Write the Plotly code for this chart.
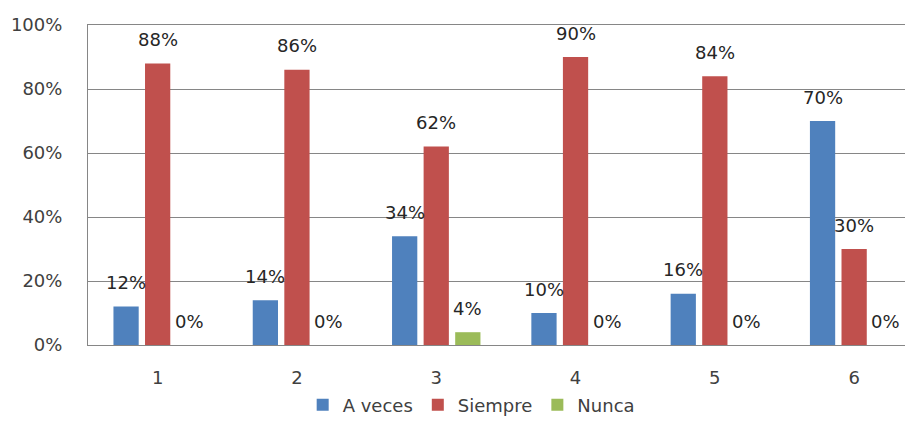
import plotly.graph_objects as go

categories = [1, 2, 3, 4, 5, 6]
tick_labels = ["1", "2", "3", "4", "5", "6"]
a_veces = [0.12, 0.14, 0.34, 0.10, 0.16, 0.70]
siempre = [0.88, 0.86, 0.62, 0.90, 0.84, 0.30]
nunca = [0.00, 0.00, 0.04, 0.00, 0.00, 0.00]
series_names = ["A veces", "Siempre", "Nunca"]
colors = ["#4F81BD", "#C0504D", "#9BBB59"]

FONT = "DejaVu Sans"
BARGAP = 0.32
BARGROUPGAP = 0.2

fig = go.Figure()
series = [a_veces, siempre, nunca]
for name, vals, col in zip(series_names, series, colors):
    fig.add_trace(go.Bar(x=categories, y=vals, name=name, marker_color=col,
                         marker_line_width=0))

slot = (1 - BARGAP) / len(series)
annotations = []
for i, vals in enumerate(series):
    off = (i - (len(series) - 1) / 2) * slot
    for c, v in zip(categories, vals):
        annotations.append(dict(x=c + off, y=v, text=f"{round(v*100)}%",
                                showarrow=False, yanchor="middle", yshift=24,
                                font=dict(family=FONT, size=18, color="#262626")))

fig.update_layout(
    width=913, height=423,
    margin=dict(l=80, r=0, t=17, b=86),
    paper_bgcolor="white", plot_bgcolor="white",
    barmode="group", bargap=BARGAP, bargroupgap=BARGROUPGAP,
    annotations=annotations,
    font=dict(family=FONT, size=18, color="#404040"),
    legend=dict(orientation="h", x=0.46, xanchor="center", y=-0.1875, yanchor="middle",
                font=dict(family=FONT, size=18, color="#404040"),
                itemwidth=30, tracegroupgap=0),
    showlegend=True,
)
fig.update_xaxes(range=[0.5, 6.48], tickvals=categories, ticktext=tick_labels,
                 showline=True, linecolor="#868686", linewidth=1, mirror=True,
                 showgrid=False, zeroline=False, ticks="", ticklabelstandoff=16,
                 automargin=False,
                 tickfont=dict(family=FONT, size=18, color="#404040"))
fig.update_yaxes(range=[0, 1], tickvals=[0, 0.2, 0.4, 0.6, 0.8, 1.0],
                 ticktext=["0%", "20%", "40%", "60%", "80%", "100%"],
                 showline=True, linecolor="#868686", linewidth=1, mirror=True,
                 showgrid=True, gridcolor="#868686", gridwidth=1, zeroline=False,
                 ticks="", ticklabelstandoff=21, automargin=False,
                 tickfont=dict(family=FONT, size=18, color="#404040"))

fig.write_html("out.html")
